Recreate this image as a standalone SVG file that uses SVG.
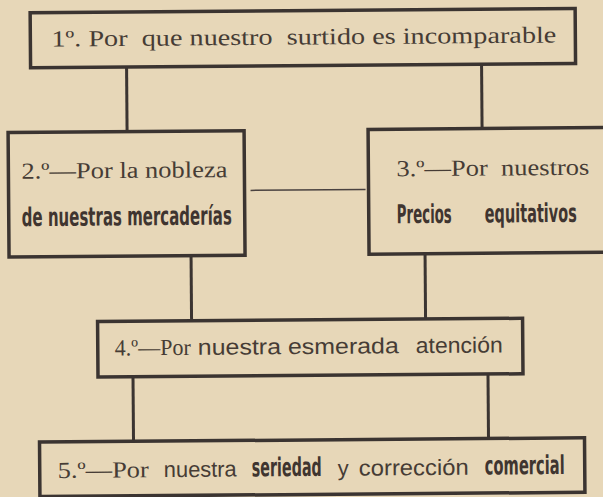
<svg xmlns="http://www.w3.org/2000/svg" width="603" height="497" viewBox="0 0 603 497">
<style>
.bg{fill:#e7d7b8}
.box{fill:none;stroke:#3b3431;stroke-width:3.5}
.con{stroke:#3b3431;stroke-width:3;fill:none}
.thin{stroke:#4a4240;stroke-width:1.5;fill:none}
.s{font-family:"Liberation Serif","DejaVu Serif",serif;font-size:23px;fill:#463c35}
.n{font-family:"Liberation Sans","DejaVu Sans",sans-serif;font-size:22px;fill:#463c35}
.b{font-family:"Liberation Sans Narrow","DejaVu Sans Condensed","Liberation Sans",sans-serif;font-weight:bold;font-size:26px;fill:#3f3530}
</style>
<rect class="bg" x="0" y="0" width="603" height="497"/>
<g transform="rotate(-0.45 301 248)">
<g id="connectors">
<line class="con" x1="128" y1="65.5" x2="128" y2="130.3"/>
<line class="con" x1="483" y1="65.5" x2="483" y2="130"/>
<line class="thin" x1="251" y1="190" x2="366" y2="190"/>
<line class="con" x1="191" y1="254.8" x2="191" y2="320"/>
<line class="con" x1="425" y1="254.7" x2="425" y2="320"/>
<line class="con" x1="132" y1="375.5" x2="132" y2="440"/>
<line class="con" x1="487" y1="375.5" x2="487" y2="440"/>
</g>
<g id="node1">
<rect class="box" x="32" y="10.6" width="545" height="55"/>
<text class="s" x="53" y="44.5" textLength="505" lengthAdjust="spacingAndGlyphs" xml:space="preserve">1º. Por  que nuestro  surtido es incomparable</text>
</g>
<g id="node2">
<rect class="box" x="9" y="130.3" width="236" height="124.5"/>
<text class="s" x="22" y="176.5" font-size="24" textLength="206" lengthAdjust="spacingAndGlyphs">2.º—Por la nobleza</text>
<text class="b" x="22" y="224" textLength="210" lengthAdjust="spacingAndGlyphs">de nuestras mercaderías</text>
</g>
<g id="node3">
<rect class="box" x="369" y="130" width="245" height="124.7"/>
<text class="s" x="397" y="177" font-size="24" textLength="193" lengthAdjust="spacingAndGlyphs" xml:space="preserve">3.º—Por  nuestros</text>
<text class="b" x="397" y="224" textLength="55" lengthAdjust="spacingAndGlyphs">Precios</text>
<text class="b" x="485" y="224" textLength="92" lengthAdjust="spacingAndGlyphs">equitativos</text>
</g>
<g id="node4">
<rect class="box" x="97" y="320" width="425" height="55.5"/>
<text class="s" x="114" y="354" textLength="76" lengthAdjust="spacingAndGlyphs">4.º—Por</text>
<text class="n" x="197" y="354" textLength="201" lengthAdjust="spacingAndGlyphs">nuestra esmerada</text>
<text class="n" x="415" y="354" textLength="87" lengthAdjust="spacingAndGlyphs">atención</text>
</g>
<g id="node5">
<rect class="box" x="38" y="440" width="545" height="54.5"/>
<text class="s" x="56" y="476" textLength="91" lengthAdjust="spacingAndGlyphs">5.º—Por</text>
<text class="n" x="162" y="476" textLength="73" lengthAdjust="spacingAndGlyphs">nuestra</text>
<text class="b" x="250" y="476" textLength="70" lengthAdjust="spacingAndGlyphs">seriedad</text>
<text class="n" x="336" y="476" textLength="11" lengthAdjust="spacingAndGlyphs">y</text>
<text class="n" x="357" y="476" textLength="110" lengthAdjust="spacingAndGlyphs">corrección</text>
<text class="b" x="483" y="476" textLength="80" lengthAdjust="spacingAndGlyphs">comercial</text>
</g>
</g>
</svg>
